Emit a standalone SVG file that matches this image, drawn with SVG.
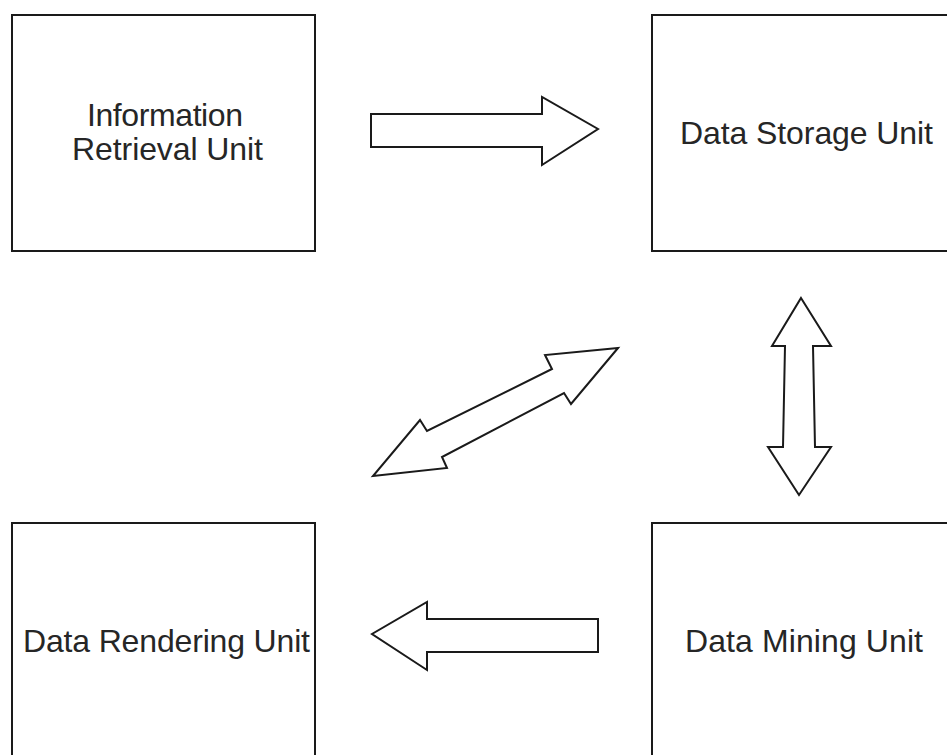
<svg xmlns="http://www.w3.org/2000/svg" width="947" height="755" viewBox="0 0 947 755">
<style>
.box{fill:#fff;stroke:#1a1a1a;stroke-width:2}
.arr{fill:#fff;stroke:#1a1a1a;stroke-width:2;stroke-linejoin:miter}
.lbl{font-family:"Liberation Sans",Arial,sans-serif;font-size:32px;fill:#262626}
</style>
<rect width="947" height="755" fill="#fff"/>
<g id="info-retrieval">
<rect class="box" x="12" y="15" width="303" height="236"/>
<text class="lbl" x="87" y="126" textLength="156">Information</text>
<text class="lbl" x="72" y="160" textLength="191">Retrieval Unit</text>
</g>
<g id="data-storage">
<rect class="box" x="652" y="15" width="304" height="236"/>
<text class="lbl" x="680" y="144" textLength="253">Data Storage Unit</text>
</g>
<g id="data-rendering">
<rect class="box" x="12" y="523" width="303" height="240"/>
<text class="lbl" x="23" y="652" textLength="287">Data Rendering Unit</text>
</g>
<g id="data-mining">
<rect class="box" x="652" y="523" width="304" height="240"/>
<text class="lbl" x="685" y="652" textLength="238">Data Mining Unit</text>
</g>
<g id="connectors">
<polygon class="arr" points="371,114 542,114 542,97 598,129 542,165 542,147 371,147"/>
<polygon class="arr" points="598,619 427,619 427,602 372,634 427,670 427,652 598,652"/>
<polygon class="arr" points="801,298 831,346 813,346 815,447 831,447 799,495 768,447 783,447 785,346 772,346"/>
<polygon class="arr" points="618,348 571,404 564,393 442,457 447,468 373,476 420,420 427,431 552,369 545,355"/>
</g>
</svg>
